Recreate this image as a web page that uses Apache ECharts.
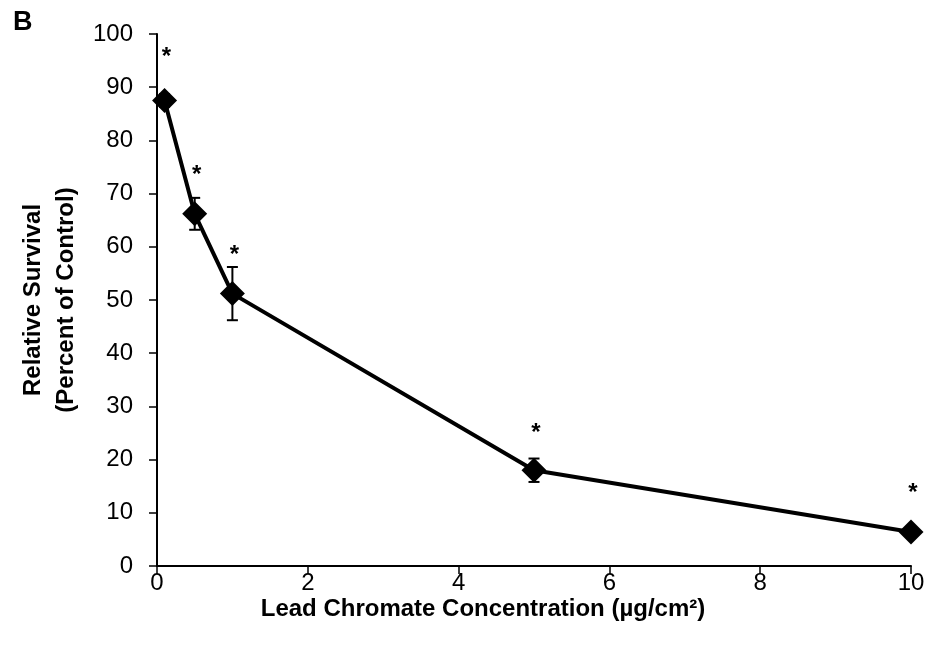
<!DOCTYPE html>
<html><head><meta charset="utf-8">
<script src="https://cdn.jsdelivr.net/npm/echarts@6/dist/echarts.min.js"></script>
<style>html,body{margin:0;padding:0;background:#fff}#c{width:932px;height:660px}</style>
</head><body><div id="c"></div>
<script>
const concentrations = [0.1, 0.5, 1, 5, 10];
const survival = [87.5, 66.2, 51.2, 18.0, 6.4];
const errors = [1.2, 3.0, 5.0, 2.2, 0.6];
const significant = ['*', '*', '*', '*', '*'];
const asteriskLevel = [96.5, 74.4, 59.4, 25.9, 14.5];
const xTicks = [0, 2, 4, 6, 8, 10];
const yTicks = [0, 10, 20, 30, 40, 50, 60, 70, 80, 90, 100];

const font = '"Liberation Sans", Arial, sans-serif';
const chart = echarts.init(document.getElementById('c'));
const lineData = concentrations.map((x, i) => [x, survival[i]]);
const errData = concentrations.map((x, i) => [x, survival[i], errors[i], asteriskLevel[i]]);

chart.setOption({
  animation: false,
  grid: {left: 157, right: 21, top: 34, bottom: 94, containLabel: false, outerBoundsMode: 'none'},
  graphic: [
    {type: 'text', left: 13, top: 9, style: {text: 'B', font: 'bold 27px ' + font, fill: '#000'}},
    {type: 'text', x: 483, y: 609, style: {text: 'Lead Chromate Concentration (µg/cm²)', font: 'bold 24px ' + font,
      fill: '#000', textAlign: 'center', textVerticalAlign: 'middle'}},
    {type: 'text', x: 50, y: 300, rotation: Math.PI / 2, style: {text: 'Relative Survival\n(Percent of Control)',
      font: 'bold 24px ' + font, lineHeight: 33, fill: '#000', textAlign: 'center', textVerticalAlign: 'middle'}}
  ],
  xAxis: {
    type: 'value', min: xTicks[0], max: xTicks[xTicks.length - 1], interval: 2,
    axisLine: {lineStyle: {color: '#000', width: 2}},
    axisTick: {length: 8, lineStyle: {color: '#000', width: 1.5}},
    axisLabel: {fontFamily: font, fontSize: 24, color: '#000', margin: 5},
    splitLine: {show: false}
  },
  yAxis: {
    type: 'value', min: yTicks[0], max: yTicks[yTicks.length - 1], interval: 10,
    axisLine: {show: true, lineStyle: {color: '#000', width: 2}},
    axisTick: {show: true, length: 8, lineStyle: {color: '#000', width: 1.5}},
    axisLabel: {fontFamily: font, fontSize: 24, color: '#000', margin: 24},
    splitLine: {show: false}
  },
  series: [
    {
      type: 'custom', z: 1,
      data: errData,
      renderItem: function (params, api) {
        const x = api.value(0), y = api.value(1), e = api.value(2);
        const top = api.coord([x, y + e]);
        const bot = api.coord([x, y - e]);
        const star = api.coord([x, api.value(3)]);
        const cap = 5.5;
        const st = {stroke: '#000', lineWidth: 2};
        return {type: 'group', children: [
          {type: 'line', shape: {x1: top[0], y1: top[1], x2: bot[0], y2: bot[1]}, style: st},
          {type: 'line', shape: {x1: top[0] - cap, y1: top[1], x2: top[0] + cap, y2: top[1]}, style: st},
          {type: 'line', shape: {x1: bot[0] - cap, y1: bot[1], x2: bot[0] + cap, y2: bot[1]}, style: st},
          {type: 'text', style: {text: significant[params.dataIndex], x: star[0] + 2, y: star[1] + 5,
            textAlign: 'center', textVerticalAlign: 'middle', font: 'bold 24px ' + font, fill: '#000'}}
        ]};
      }
    },
    {
      type: 'line', z: 2,
      data: lineData,
      symbol: 'diamond', symbolSize: 25,
      lineStyle: {color: '#000', width: 4},
      itemStyle: {color: '#000'}
    }
  ]
});
</script></body></html>
